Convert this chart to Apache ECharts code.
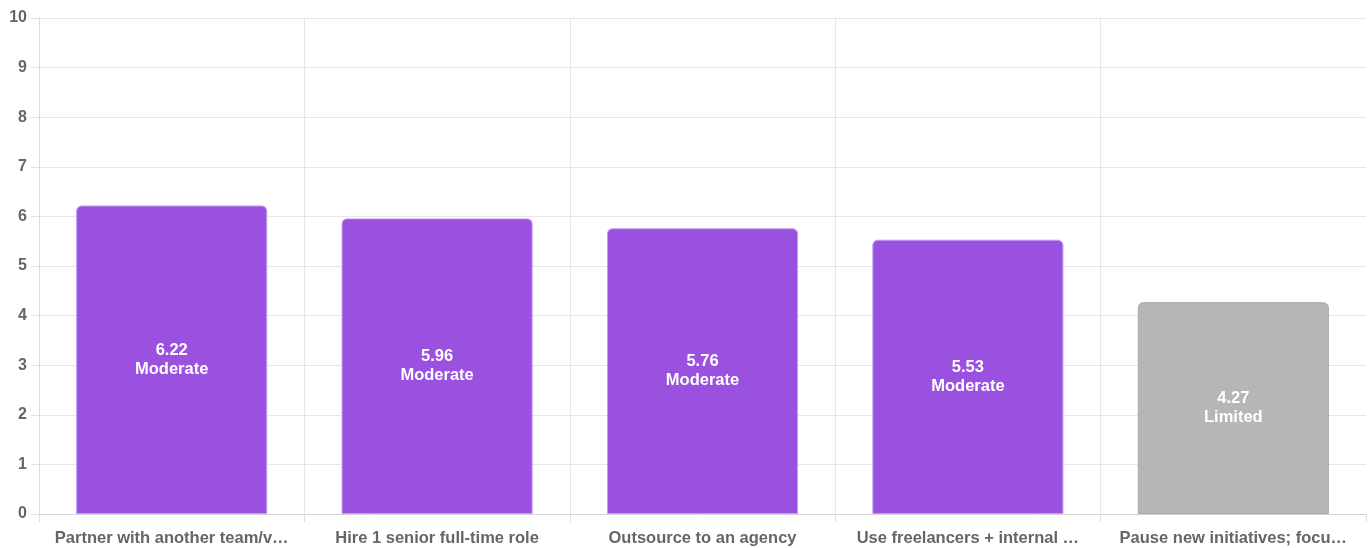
<!DOCTYPE html>
<html>
<head>
<meta charset="utf-8">
<script src="https://cdn.jsdelivr.net/npm/echarts@6/dist/echarts.min.js"></script>
<style>html,body{margin:0;padding:0;background:#fff}#c{width:1371px;height:548px}</style>
</head>
<body>
<div id="c"></div>
<script>
const categories = ["Partner with another team/v…", "Hire 1 senior full-time role", "Outsource to an agency", "Use freelancers + internal …", "Pause new initiatives; focu…"];
const scores = [6.22, 5.96, 5.76, 5.53, 4.27];
const ratings = ["Moderate", "Moderate", "Moderate", "Moderate", "Limited"];
const barColors = ["#9b51e0", "#9b51e0", "#9b51e0", "#9b51e0", "#b6b6b8"];
const borderColors = ["#c49bf0", "#c49bf0", "#c49bf0", "#c49bf0", "#a9a9ab"];

const FONT = '"Liberation Sans", Arial, sans-serif';
const vLineColors = categories.map(() => '#e6e6e6').concat(['rgba(0,0,0,0)']);
const chart = echarts.init(document.getElementById('c'));
chart.setOption({
  animation: false,
  grid: { left: 39, right: 5, top: 18, bottom: 34 },
  xAxis: {
    type: 'category',
    data: categories,
    axisLine: { lineStyle: { color: '#d4d4d4' } },
    axisTick: { show: true, interval: 0, length: 8, lineStyle: { color: '#e0e0e0' } },
    splitLine: { show: true, interval: 0, lineStyle: { color: vLineColors } },
    axisLabel: { interval: 0, color: '#666', fontSize: 16.5, fontWeight: 'bold', fontFamily: FONT, margin: 16 }
  },
  yAxis: {
    type: 'value', min: 0, max: 10, interval: 1,
    axisLine: { show: true, lineStyle: { color: '#dcdcdc' } },
    axisTick: { show: true, length: 8, lineStyle: { color: '#e0e0e0' } },
    splitLine: { lineStyle: { color: '#e6e6e6' } },
    axisLabel: { color: '#666', fontSize: 16, fontWeight: 'bold', fontFamily: FONT, margin: 12 }
  },
  series: [{
    type: 'bar',
    barWidth: '72%',
    data: scores.map((v, i) => ({
      value: v,
      itemStyle: { color: barColors[i], borderColor: borderColors[i], borderWidth: 1, borderRadius: [5, 5, 0, 0] }
    })),
    label: {
      show: true, position: 'inside', color: '#fff', fontSize: 16.5, fontWeight: 'bold',
      fontFamily: FONT, lineHeight: 19,
      formatter: p => p.value.toFixed(2) + '\n' + ratings[p.dataIndex]
    }
  }]
});
</script>
</body>
</html>
